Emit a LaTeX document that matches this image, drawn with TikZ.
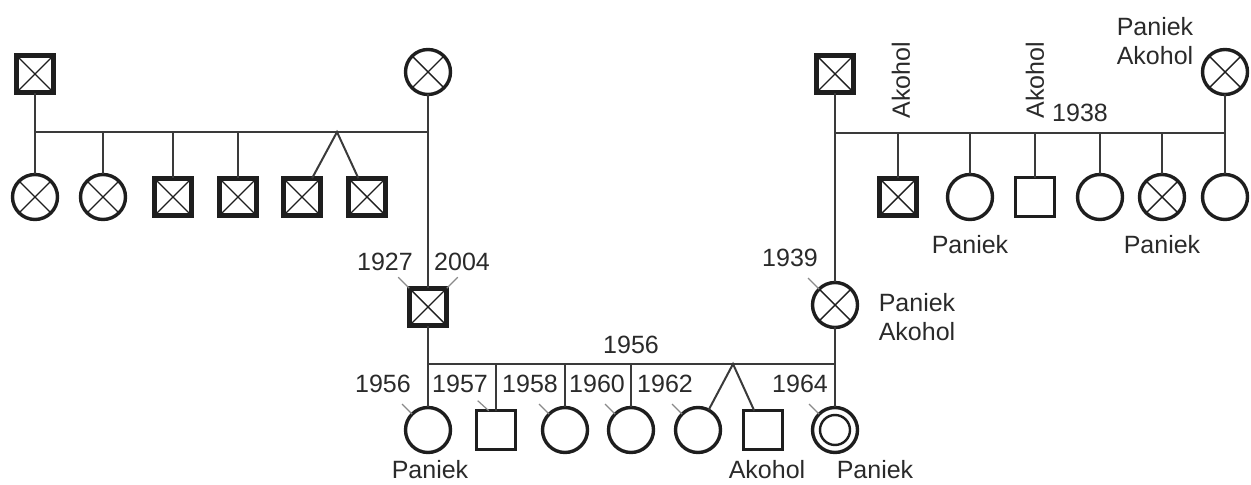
\documentclass[tikz,border=0pt]{standalone}
\usepackage{fontspec}
\setmainfont{Liberation Sans}
\definecolor{txt}{HTML}{2A2A2A}
\definecolor{ln}{HTML}{3A3A3A}
\definecolor{tk}{HTML}{8A8A8A}
\definecolor{sy}{HTML}{1E1E1E}
\begin{document}
\begin{tikzpicture}[x=0.5pt,y=-0.5pt,
  every node/.style={font=\fontsize{12.5pt}{14.5pt}\selectfont, text=txt, inner sep=0pt},
  conn/.style={draw=ln, line width=1pt},
  tick/.style={draw=tk, line width=0.6pt},
  sym/.style={draw=sy, line width=1.7pt, inner sep=0pt, outer sep=0pt, fill=white},
  circ/.style={sym, circle, minimum size=22.5pt},
  sqr/.style={sym, rectangle, minimum size=19.3pt},
  xmark/.style={path picture={\draw[line width=0.7pt,sy] (path picture bounding box.north west) -- (path picture bounding box.south east) (path picture bounding box.north east) -- (path picture bounding box.south west);}},
  xsq/.style={sym, rectangle, minimum size=18.8pt, line width=2.4pt, xmark},
  xcirc/.style={circ, xmark},
  dcirc/.style={circ, path picture={\draw[line width=1.2pt,sy] (path picture bounding box.center) circle (7.5pt);}}
]
\useasboundingbox (0,0) rectangle (1251,485);
% top-left family
\node[xsq] (gl1) at (35,74) {};
\node[xcirc] (gl2) at (428,72) {};
\node[xcirc] (l1) at (35,197) {};
\node[xcirc] (l2) at (103,197) {};
\node[xsq] (l3) at (173,197) {};
\node[xsq] (l4) at (238,197) {};
\node[xsq] (l5) at (302,197) {};
\node[xsq] (l6) at (367,197) {};
\coordinate (la) at (35,132);
\coordinate (lb) at (428,132);
\coordinate (lt) at (337,132);
% top-right family
\node[xsq] (gr1) at (835,74) {};
\node[xcirc] (gr2) at (1225,72) {};
\node[xsq] (r1) at (898,197) {};
\node[circ] (r2) at (970,197) {};
\node[sqr] (r3) at (1035,197) {};
\node[circ] (r4) at (1100,197) {};
\node[xcirc] (r5) at (1162,197) {};
\node[circ] (r6) at (1225,197) {};
\coordinate (ra) at (835,133);
\coordinate (rb) at (1225,133);
% parents
\node[xsq] (f) at (428,307) {};
\node[xcirc] (m) at (835,305) {};
% children
\node[circ] (b1) at (428,430) {};
\node[sqr] (b2) at (496,430) {};
\node[circ] (b3) at (565,430) {};
\node[circ] (b4) at (631,430) {};
\node[circ] (b5) at (698,430) {};
\node[sqr] (b6) at (763,430) {};
\node[dcirc] (b7) at (835,430) {};
\coordinate (ba) at (428,364);
\coordinate (bb) at (835,364);
\coordinate (bt) at (733,364);
% connectors top-left
\draw[conn] (gl1) -- (l1);
\draw[conn] (la) -- (lb);
\draw[conn] (l2) -- (l2 |- la);
\draw[conn] (l3) -- (l3 |- la);
\draw[conn] (l4) -- (l4 |- la);
\draw[conn] (l5) -- (lt) -- (l6);
\draw[conn] (gl2) -- (f);
% connectors top-right
\draw[conn] (gr1) -- (m);
\draw[conn] (ra) -- (rb);
\draw[conn] (gr2) -- (r6);
\draw[conn] (r1) -- (r1 |- ra);
\draw[conn] (r2) -- (r2 |- ra);
\draw[conn] (r3) -- (r3 |- ra);
\draw[conn] (r4) -- (r4 |- ra);
\draw[conn] (r5) -- (r5 |- ra);
% connectors bottom
\draw[conn] (f) -- (b1);
\draw[conn] (m) -- (b7);
\draw[conn] (ba) -- (bb);
\draw[conn] (b2) -- (b2 |- ba);
\draw[conn] (b3) -- (b3 |- ba);
\draw[conn] (b4) -- (b4 |- ba);
\draw[conn] (b5) -- (bt) -- (b6);
% labels
\node (t1927) at (385,262) {1927};
\node (t2004) at (462,262) {2004};
\node (t1939) at (790,258) {1939};
\node[align=left] (tma) at (917,317) {Paniek\\Akohol};
\node (t1956m) at (631,345) {1956};
\node (c1956) at (383,384) {1956};
\node (c1957) at (460,384) {1957};
\node (c1958) at (530,384) {1958};
\node (c1960) at (597,384) {1960};
\node (c1962) at (665,384) {1962};
\node (c1964) at (800,384) {1964};
\node (pb1) at (430,470) {Paniek};
\node (ab6) at (767,470) {Akohol};
\node (pb7) at (875,470) {Paniek};
\node[rotate=90] (ak1) at (901,80) {Akohol};
\node[rotate=90] (ak2) at (1035,80) {Akohol};
\node (t1938) at (1080,113) {1938};
\node[align=center] (tgr2) at (1155,41) {Paniek\\Akohol};
\node (pr2) at (970,245) {Paniek};
\node (pr5) at (1162,245) {Paniek};
% ticks
\draw[tick] (f.north west) -- ++(-11,-11);
\draw[tick] (f.north east) -- ++(11,-11);
\draw[tick] (m.north west) -- ++(-11,-11);
\draw[tick] (b1.north west) -- ++(-10,-10);
\draw[tick] (b2.north west) ++(12,0) -- ++(-11,-10);
\draw[tick] (b3.north west) -- ++(-10,-10);
\draw[tick] (b4.north west) -- ++(-10,-10);
\draw[tick] (b5.north west) -- ++(-10,-10);
\draw[tick] (b7.north west) -- ++(-10,-10);
\end{tikzpicture}
\end{document}
